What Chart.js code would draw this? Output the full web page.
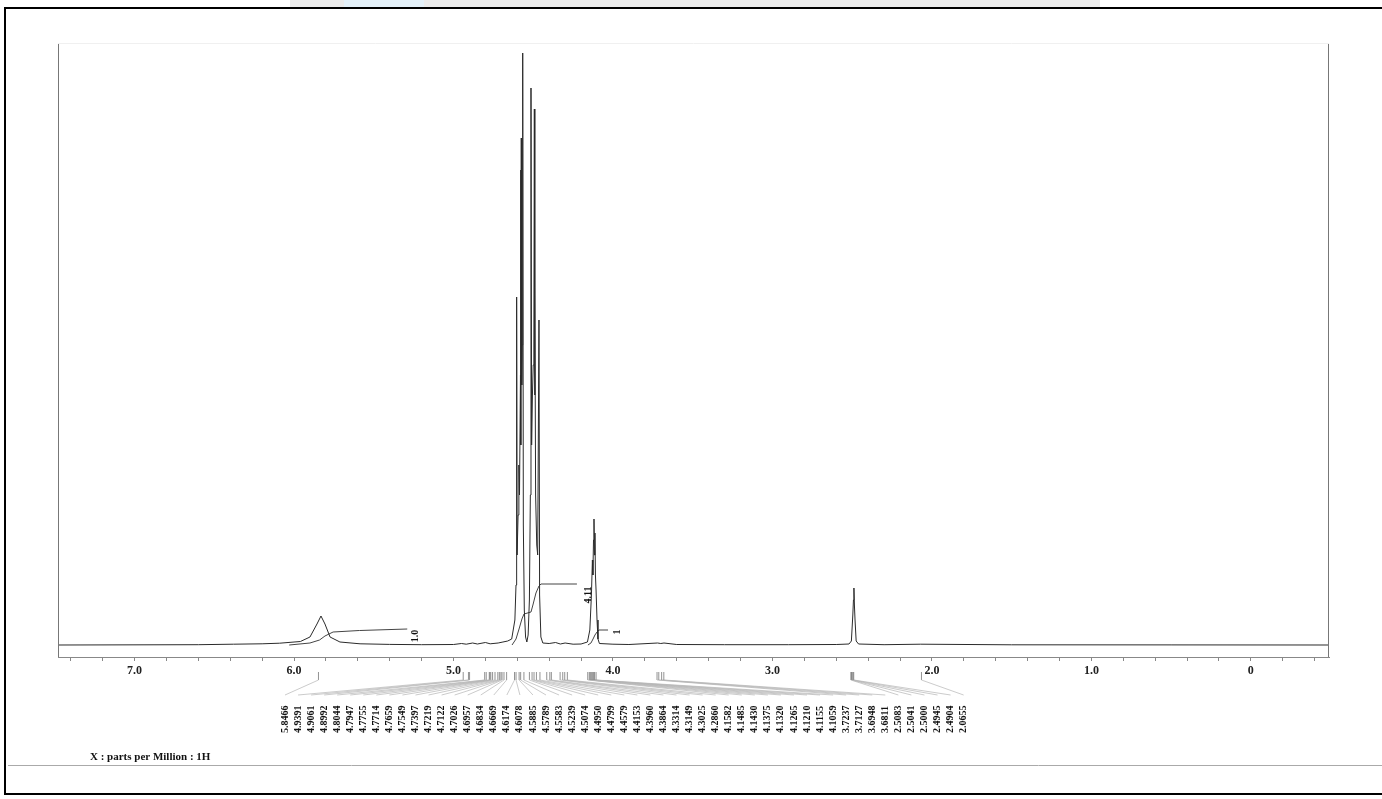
<!DOCTYPE html>
<html>
<head>
<meta charset="utf-8">
<script src="https://cdn.jsdelivr.net/npm/chart.js@4.4.1/dist/chart.umd.min.js"></script>
<style>
    html, body { margin: 0; padding: 0; background: #fff; }
    canvas { display: block; }
</style>
</head>
<body>
<canvas id="nmrChart" width="1382" height="799"></canvas>
<script>
// 1H spectrum: chemical shift (ppm) and height above baseline
const spectrumPpm = [7.48, 6.60, 6.38, 6.20, 6.09, 5.96, 5.90, 5.856, 5.831, 5.806, 5.774, 5.712, 5.586, 5.40, 5.20, 5.00,
    4.95, 4.92, 4.88, 4.85, 4.80, 4.77, 4.72, 4.69, 4.66,
    4.635, 4.615, 4.608, 4.604, 4.601, 4.595, 4.590, 4.586, 4.580, 4.579, 4.577, 4.575, 4.572, 4.569, 4.566, 4.562, 4.556, 4.548,
    4.540, 4.532, 4.524, 4.518, 4.514, 4.510, 4.505, 4.500, 4.496, 4.493, 4.491, 4.489, 4.485, 4.478, 4.472, 4.464, 4.460, 4.452, 4.44,
    4.40, 4.36, 4.33, 4.30, 4.25, 4.20, 4.16, 4.145, 4.135, 4.129, 4.126, 4.122, 4.119, 4.116, 4.113, 4.110, 4.106, 4.100, 4.094, 4.085,
    4.00, 3.90, 3.72, 3.70, 3.68, 3.60, 3.30, 2.90, 2.60, 2.52, 2.505, 2.496, 2.492, 2.489, 2.486, 2.482, 2.475, 2.46, 2.30, 2.07, 1.5, 0.5, -0.49]
const spectrumIntensity = [0, 0.3, 0.8, 1.2, 1.8, 3.5, 8, 21, 29, 21, 8, 3, 1.2, 0.6, 0.3, 0.5,
    1.5, 0.8, 2, 1, 2.5, 1.2, 2, 3, 4,
    6, 25, 60, 348, 90, 130, 180, 150, 270, 475, 200, 507, 260, 300, 592, 120, 35, 8,
    3, 10, 45, 150, 557, 200, 250, 280, 300, 536, 250, 358, 150, 100, 90, 325, 50, 8, 2,
    1.5, 2.5, 1, 2, 0.8, 1, 3, 15, 50, 85, 70, 105, 126, 90, 112, 70, 55, 25, 6, 1.5,
    0.8, 0.5, 2, 1.5, 2, 0.5, 0.3, 0.3, 0.5, 1, 4, 30, 45, 57, 40, 25, 4, 1, 0.3, 0.8, 0.2, 0.1, 0]

// integral curves
const integral1Ppm = [6.03, 5.90, 5.84, 5.806, 5.755, 5.59, 5.29]
const integral1Val = [0, 2, 5, 9, 13, 14.5, 16]
const integral2Ppm = [4.633, 4.608, 4.589, 4.571, 4.558, 4.514, 4.502, 4.483, 4.464, 4.451, 4.226]
const integral2Val = [0, 6, 16, 26, 31, 33, 40, 52, 59, 61, 61]
const integral3Ppm = [4.157, 4.138, 4.125, 4.113, 4.100, 4.088, 4.031]
const integral3Val = [0, 2, 6, 10, 13, 15, 15]

const integralLabels = ['1.0', '4.11', '1']
const integralLabelPpm = [5.241, 4.157, 3.975]
const integralLabelVal = [9, 50, 13]

// picked peaks
const peakLabels = ['5.8466', '4.9391', '4.9061', '4.8992', '4.8044', '4.7947', '4.7755', '4.7714', '4.7659',
    '4.7549', '4.7397', '4.7219', '4.7122', '4.7026', '4.6957', '4.6834', '4.6669', '4.6174', '4.6078',
    '4.5885', '4.5789', '4.5583', '4.5239', '4.5074', '4.4950', '4.4799', '4.4579', '4.4153', '4.3960',
    '4.3864', '4.3314', '4.3149', '4.3025', '4.2860', '4.1582', '4.1485', '4.1430', '4.1375', '4.1320',
    '4.1265', '4.1210', '4.1155', '4.1059', '3.7237', '3.7127', '3.6948', '3.6811', '2.5083', '2.5041',
    '2.5000', '2.4945', '2.4904', '2.0655']

const xTitle = 'X : parts per Million : 1H'

const toPoints = (xs, ys) => xs.map((x, i) => ({ x: x, y: ys[i] }))
const serif = '"Liberation Serif", "Times New Roman", serif'

const decorations = {
    id: 'decorations',
    beforeDraw(chart) {
        const ctx = chart.ctx
        ctx.save()
        // faded strip along the top edge
        ctx.fillStyle = '#ebebeb'
        ctx.fillRect(290, 0, 810, 7)
        ctx.fillStyle = '#e4f1f9'
        ctx.fillRect(344, 0, 80, 7)
        ctx.restore()
    },
    afterDraw(chart) {
        const ctx = chart.ctx
        const area = chart.chartArea
        const xs = chart.scales.x
        const ys = chart.scales.y
        ctx.save()

        // plot frame sides
        ctx.strokeStyle = '#777'
        ctx.lineWidth = 1
        ctx.beginPath()
        ctx.moveTo(area.left + 0.5, area.top)
        ctx.lineTo(area.left + 0.5, area.bottom)
        ctx.moveTo(area.right - 0.5, area.top)
        ctx.lineTo(area.right - 0.5, area.bottom)
        ctx.stroke()
        ctx.strokeStyle = '#f0f0f0'
        ctx.beginPath()
        ctx.moveTo(area.left, area.top + 0.5)
        ctx.lineTo(area.right, area.top + 0.5)
        ctx.stroke()

        // integral values
        ctx.fillStyle = '#111'
        ctx.font = 'bold 10px ' + serif
        ctx.textAlign = 'center'
        ctx.textBaseline = 'middle'
        integralLabels.forEach((t, i) => {
            ctx.save()
            ctx.translate(xs.getPixelForValue(integralLabelPpm[i]), ys.getPixelForValue(integralLabelVal[i]))
            ctx.rotate(-Math.PI / 2)
            ctx.fillText(t, 0, 0)
            ctx.restore()
        })

        // peak picking ticks, leaders and labels
        const tickTop = 672, tickBot = 680, leadEnd = 695, textBase = 733
        const x0 = 285, step = 13.05
        peakLabels.forEach((t, i) => {
            const px = xs.getPixelForValue(parseFloat(t))
            const lx = x0 + i * step
            ctx.strokeStyle = '#777'
            ctx.lineWidth = 0.8
            ctx.beginPath()
            ctx.moveTo(px, tickTop)
            ctx.lineTo(px, tickBot)
            ctx.stroke()
            ctx.strokeStyle = '#b5b5b5'
            ctx.lineWidth = 0.7
            ctx.beginPath()
            ctx.moveTo(px, tickBot)
            ctx.lineTo(lx, leadEnd)
            ctx.stroke()
            ctx.save()
            ctx.translate(lx, textBase)
            ctx.rotate(-Math.PI / 2)
            ctx.fillStyle = '#111'
            ctx.font = 'bold 10px ' + serif
            ctx.textAlign = 'left'
            ctx.textBaseline = 'middle'
            ctx.fillText(t, 0, 0)
            ctx.restore()
        })

        // footer title and rule
        ctx.fillStyle = '#111'
        ctx.font = 'bold 11px ' + serif
        ctx.textAlign = 'left'
        ctx.textBaseline = 'middle'
        ctx.fillText(xTitle, 90, 757)
        ctx.strokeStyle = '#aaa'
        ctx.lineWidth = 1
        ctx.beginPath()
        ctx.moveTo(8, 765.5)
        ctx.lineTo(1382, 765.5)
        ctx.stroke()

        // outer page frame
        ctx.strokeStyle = '#000'
        ctx.lineWidth = 2
        ctx.beginPath()
        ctx.moveTo(1382, 8)
        ctx.lineTo(5, 8)
        ctx.lineTo(5, 794)
        ctx.lineTo(1382, 794)
        ctx.stroke()
        ctx.restore()
    }
}

new Chart(document.getElementById('nmrChart'), {
    type: 'line',
    data: {
        datasets: [
            { data: toPoints(spectrumPpm, spectrumIntensity), borderColor: '#2a2a2a', borderWidth: 1 },
            { data: toPoints(integral1Ppm, integral1Val), borderColor: '#444', borderWidth: 1 },
            { data: toPoints(integral2Ppm, integral2Val), borderColor: '#444', borderWidth: 1 },
            { data: toPoints(integral3Ppm, integral3Val), borderColor: '#444', borderWidth: 1 }
        ]
    },
    options: {
        responsive: false,
        animation: false,
        devicePixelRatio: 1,
        layout: { padding: { left: 58, right: 53, top: 43, bottom: 0 } },
        elements: {
            point: { radius: 0 },
            line: { tension: 0, fill: false }
        },
        plugins: {
            legend: { display: false },
            tooltip: { enabled: false }
        },
        scales: {
            x: {
                type: 'linear',
                reverse: true,
                min: -0.49,
                max: 7.48,
                afterFit: s => { s.height = 142 },
                border: { display: true, color: '#888', width: 1 },
                grid: { drawOnChartArea: false, drawTicks: true, tickLength: 4, color: '#888' },
                ticks: {
                    stepSize: 0.2,
                    includeBounds: false,
                    autoSkip: false,
                    maxRotation: 0,
                    padding: 3,
                    color: '#222',
                    font: { family: serif, size: 12, weight: 'bold' },
                    callback: v => {
                        const r = Math.round(v)
                        if (Math.abs(v - r) > 1e-6) return ''
                        return r === 0 ? '0' : r.toFixed(1)
                    }
                }
            },
            y: {
                display: false,
                min: -12,
                max: 602
            }
        }
    },
    plugins: [decorations]
})
</script>
</body>
</html>
